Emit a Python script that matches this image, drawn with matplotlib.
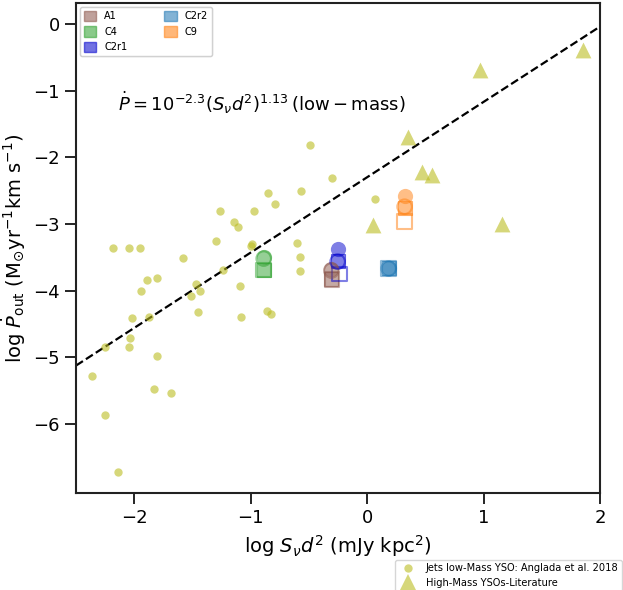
import matplotlib
matplotlib.use("Agg")
import matplotlib.pyplot as plt
import matplotlib.patches as mpatches
from matplotlib.lines import Line2D
import numpy as np

# Jets low-mass YSOs (Anglada et al. 2018)
low_x = [-2.182, -2.047, -1.950, -1.581, -1.887, -1.801, -1.942, -2.015, -1.876, -2.039,
         -2.041, -2.253, -1.801, -2.359, -1.833, -1.684, -1.472, -1.509, -1.435, -1.455,
         -1.300, -1.266, -1.146, -1.109, -0.989, -0.994, -1.238, -1.094, -1.080, -0.972,
         -0.854, -0.788, -0.860, -0.826, -0.599, -0.579, -0.575, -0.568, -0.494, -0.302,
         0.067, -2.251, -2.142]
low_y = [-3.356, -3.356, -3.356, -3.506, -3.835, -3.805, -4.009, -4.409, -4.399, -4.713,
         -4.839, -4.839, -4.974, -5.282, -5.483, -5.537, -3.895, -4.075, -4.009, -4.324,
         -3.251, -2.801, -2.966, -3.050, -3.300, -3.326, -3.690, -3.930, -4.399, -2.801,
         -2.532, -2.706, -4.309, -4.349, -3.285, -3.491, -3.705, -2.502, -1.822, -2.304,
         -2.626, -5.873, -6.721]

# High-mass YSOs from literature
high_x = [0.974, 1.856, 0.350, 0.470, 0.554, 0.053, 1.155]
high_y = [-0.694, -0.394, -1.697, -2.222, -2.267, -3.011, -3.001]

# sources of this work
src_names = ['A1', 'C4', 'C2r1', 'C2r2', 'C9']
src_colors = ['tab:brown', 'tab:green', 'mediumblue', 'tab:blue', 'tab:orange']
src_x = [-0.307, -0.888, -0.253, 0.185, 0.322]
src_x_open = [-0.300, -0.888, -0.236, 0.185, 0.322]
circ_fill_y = [-3.679, -3.503, -3.375, -3.66, -2.581]
circ_open_y = [-3.70, -3.52, -3.566, -3.67, -2.742]
sq_fill_y = [-3.829, -3.690, -3.550, -3.66, -2.761]
sq_open_y = [-3.83, -3.69, -3.750, -3.67, -2.966]

fig = plt.figure(figsize=(6.23, 5.9), dpi=100)
ax = fig.add_axes([0.122, 0.164, 0.841, 0.831])

ax.scatter(low_x, low_y, s=36, color='tab:olive', alpha=0.6, lw=0, zorder=2)
ax.scatter(high_x, high_y, s=130, marker='^', color='tab:olive', alpha=0.6, lw=0, zorder=2)

for i in range(len(src_names)):
    c = src_colors[i]
    ax.scatter(src_x[i], sq_fill_y[i], s=110, marker='s', color=c, alpha=0.5, lw=0.8, zorder=3)
    ax.scatter(src_x_open[i], sq_open_y[i], s=110, marker='s', facecolor='none',
               edgecolor=c, alpha=0.5, lw=1.5, zorder=3)
    ax.scatter(src_x[i], circ_fill_y[i], s=120, marker='o', color=c, alpha=0.5, lw=0, zorder=4)
    ax.scatter(src_x[i], circ_open_y[i], s=110, marker='o', facecolor='none',
               edgecolor=c, alpha=0.5, lw=1.5, zorder=4)

# fit for low-mass
xx = np.linspace(-2.5, 2, 100)
ax.plot(xx, -2.3 + 1.13 * xx, 'k--', lw=1.6, zorder=1)
ax.text(-2.142, -1.19, r'$\dot{P} = 10^{-2.3}(S_\nu d^2)^{1.13}\,(\rm low-mass)$',
        fontsize=13, va='center', ha='left')

ax.set_xlim(-2.5, 2)
ax.set_ylim(-7.04, 0.315)
ax.set_xticks([-2, -1, 0, 1, 2])
ax.set_yticks([-6, -5, -4, -3, -2, -1, 0])
ax.tick_params(axis='both', direction='out', length=8, width=1.2, labelsize=13)
for sp in ax.spines.values():
    sp.set_linewidth(1.5)
    sp.set_color('#222222')

ax.set_xlabel(r'log $S_\nu d^2$ (mJy kpc$^2$)', fontsize=14)
ax.set_ylabel(r'log $\dot{P}_{\rm out}$ (M$_{\odot}$yr$^{-1}$km s$^{-1}$)', fontsize=14)

handles = [mpatches.Patch(color=c, alpha=0.5, label=n) for c, n in zip(src_colors, src_names)]
leg1 = ax.legend(handles=handles, loc='upper left', ncol=2, fontsize=7,
                 handlelength=1.3, handleheight=1.3, columnspacing=3.8, borderaxespad=0.4)
ax.add_artist(leg1)

h2 = [Line2D([], [], marker='o', ls='', color='tab:olive', alpha=0.6, ms=6, mew=0,
             label='Jets low-Mass YSO: Anglada et al. 2018'),
      Line2D([], [], marker='^', ls='', color='tab:olive', alpha=0.6, ms=12, mew=0,
             label='High-Mass YSOs-Literature')]
fig.legend(handles=h2, loc='lower right', bbox_to_anchor=(1.0, -0.004), fontsize=7.1,
           handletextpad=0.8, borderaxespad=0.1, borderpad=0.35, labelspacing=0.5)

fig.savefig('out.png', dpi=100)
